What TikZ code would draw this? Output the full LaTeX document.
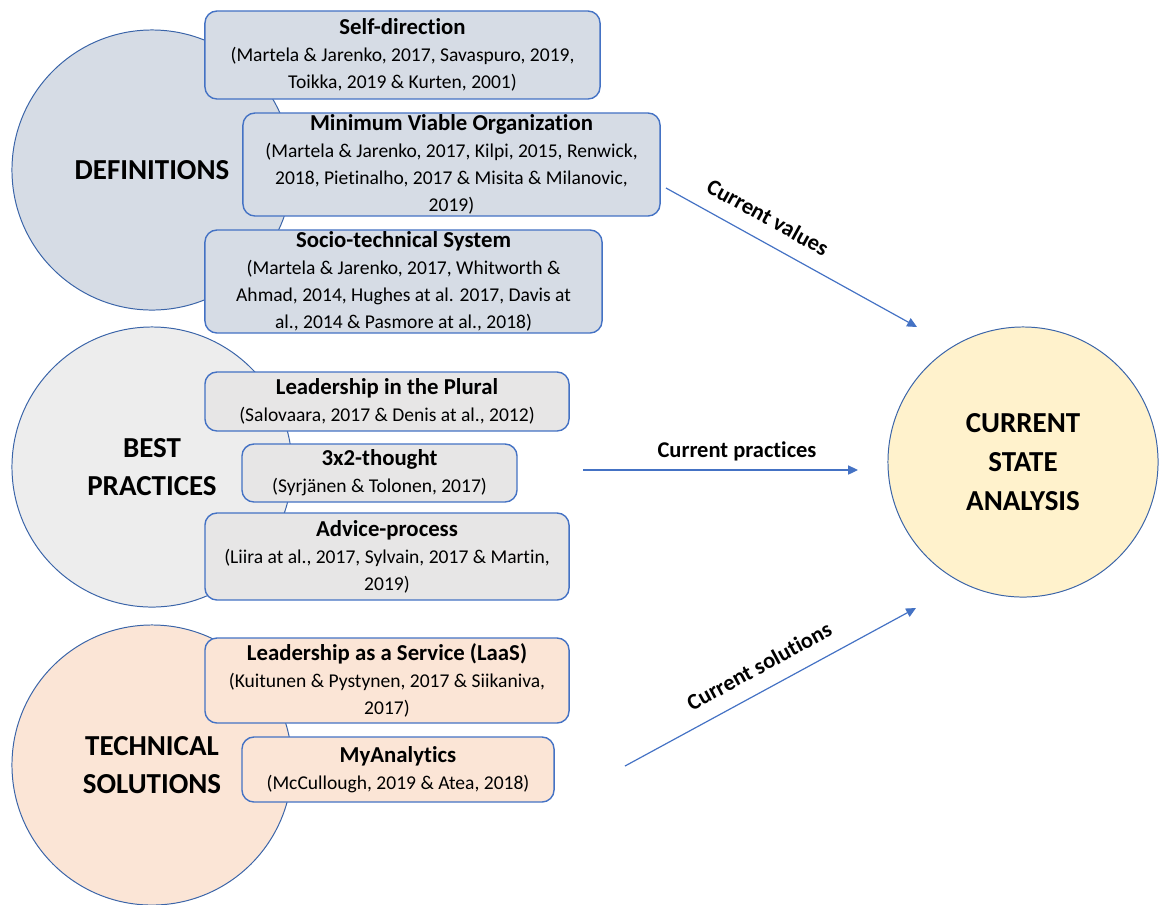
\documentclass[tikz,border=0pt]{standalone}
\usepackage{fontspec}
\setmainfont[Ligatures=NoCommon]{Carlito}
\usetikzlibrary{arrows.meta,positioning}

\definecolor{deffill}{HTML}{D6DCE5}
\definecolor{bestfill}{HTML}{EDEDED}
\definecolor{bestbox}{HTML}{E7E6E6}
\definecolor{techfill}{HTML}{FBE5D6}
\definecolor{statefill}{HTML}{FFF2CC}
\definecolor{circline}{HTML}{3A64A8}
\definecolor{boxline}{HTML}{4472C4}

\newcommand{\reftitle}[1]{{\fontsize{16.2}{19.6}\selectfont\bfseries #1}}

\begin{document}
\begin{tikzpicture}[x=0.025cm,y=-0.025cm,
    topic/.style={circle,draw=circline,line width=0.7pt,minimum size=7cm,align=center,
      font=\fontsize{20.6}{27.6}\selectfont\bfseries},
    refbox/.style={draw=boxline,line width=1pt,rounded corners=3mm,align=center,inner sep=0pt,
      font=\fontsize{13.9}{19.2}\selectfont},
    flow/.style={-{Triangle[length=7pt,width=6.5pt]},color=boxline,line width=0.85pt},
    tag/.style={font=\fontsize{16}{19}\selectfont\bfseries,text=black,inner sep=1pt,text depth=3pt}]
    \useasboundingbox (0,0) rectangle (1161,904);

    % topics
    \node[topic,fill=deffill](def) at (152,170){DEFINITIONS};
    \node[topic,fill=bestfill](best) at (152,467){BEST\\PRACTICES};
    \node[topic,fill=techfill](tech) at (152,765){TECHNICAL\\SOLUTIONS};
    \node[topic,fill=statefill,minimum size=6.75cm](state) at (1023,462){CURRENT\\STATE\\ANALYSIS};

    % definitions
    \node[refbox,fill=deffill,minimum width=9.875cm,minimum height=2.2cm](selfdir) at (402.5,55)
      {\reftitle{Self-direction}\\(Martela \& Jarenko, 2017, Savaspuro, 2019,\\Toikka, 2019 \& Kurten, 2001)};
    \node[refbox,fill=deffill,minimum width=10.425cm,minimum height=2.575cm](mvo) at (451.5,164.5)
      {\reftitle{Minimum Viable Organization}\\(Martela \& Jarenko, 2017, Kilpi, 2015, Renwick,\\2018, Pietinalho, 2017 \& Misita \& Milanovic,\\2019)};
    \node[refbox,fill=deffill,minimum width=9.925cm,minimum height=2.575cm](socio) at (403.5,281.5)
      {\reftitle{Socio-technical System}\\(Martela \& Jarenko, 2017, Whitworth \&\\Ahmad, 2014, Hughes at al. 2017, Davis at\\al., 2014 \& Pasmore at al., 2018)};

    % best practices
    \node[refbox,fill=bestbox,minimum width=9.1cm,minimum height=1.475cm](plural) at (387,401.5)
      {\reftitle{Leadership in the Plural}\\(Salovaara, 2017 \& Denis at al., 2012)};
    \node[refbox,fill=bestbox,minimum width=6.875cm,minimum height=1.45cm](thought) at (379.5,473)
      {\reftitle{3x2-thought}\\(Syrjänen \& Tolonen, 2017)};
    \node[refbox,fill=bestbox,minimum width=9.1cm,minimum height=2.175cm](advice) at (387,556.5)
      {\reftitle{Advice-process}\\(Liira at al., 2017, Sylvain, 2017 \& Martin,\\2019)};

    % technical solutions
    \node[refbox,fill=techfill,minimum width=9.1cm,minimum height=2.125cm](laas) at (387,680.5)
      {\reftitle{Leadership as a Service (LaaS)}\\(Kuitunen \& Pystynen, 2017 \& Siikaniva,\\2017)};
    \node[refbox,fill=techfill,minimum width=7.8cm,minimum height=1.625cm](myan) at (398,769.5)
      {\reftitle{MyAnalytics}\\(McCullough, 2019 \& Atea, 2018)};

    % flows into the analysis
    \coordinate (val_s) at (666,188);
    \coordinate (val_e) at (917,327);
    \coordinate (prac_s) at (583,470);
    \coordinate (prac_e) at (858,470);
    \coordinate (sol_s) at (625,766);
    \coordinate (sol_e) at (916,608);
    \path
    (val_s) edge[flow] node[tag,sloped,above=7pt,pos=0.36] {Current values} (val_e)
    (prac_s) edge[flow] node[tag,above=4.5pt,pos=0.56] {Current practices} (prac_e)
    (sol_s) edge[flow] node[tag,sloped,above=7pt,pos=0.5] {Current solutions} (sol_e);
\end{tikzpicture}
\end{document}
